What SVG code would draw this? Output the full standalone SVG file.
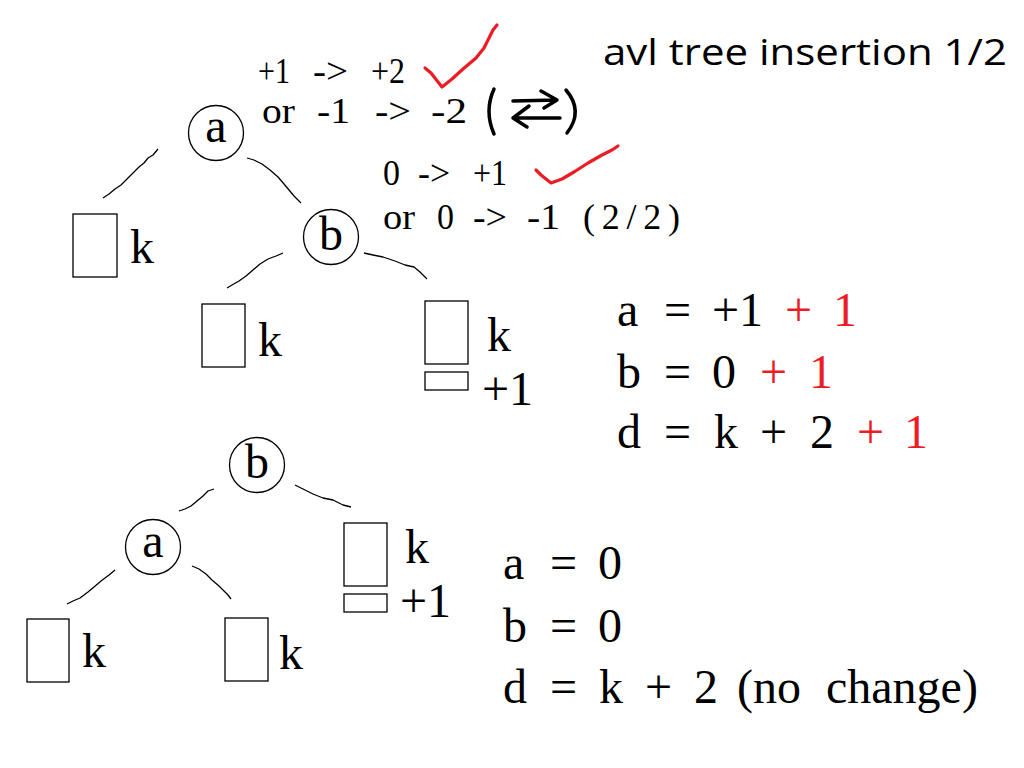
<svg xmlns="http://www.w3.org/2000/svg" width="1024" height="768" viewBox="0 0 1024 768">
<style>
.s{font-family:"Liberation Serif","Times New Roman",serif;fill:#000}
.m{font-size:36px}
.b{font-size:48px}
.r{fill:#ec1c24}
.t{font-family:"Open Sans","Noto Sans",sans-serif;font-size:37px;fill:#000}
.n{fill:#fff;stroke:#000;stroke-width:1.3}
.bx{fill:#fff;stroke:#000;stroke-width:1.3}
.e{fill:none;stroke:#000;stroke-width:1.3;stroke-linejoin:round}
.ck{fill:none;stroke:#ec1c24;stroke-width:3.2;stroke-linecap:round;stroke-linejoin:round}
.sym{fill:none;stroke:#000;stroke-width:3.5;stroke-linecap:round;stroke-linejoin:round}
</style>
<rect width="1024" height="768" fill="#fff"/>

<text class="t" x="603" y="65" textLength="404" lengthAdjust="spacingAndGlyphs">avl tree insertion 1/2</text>

<g id="notes-a">
<text class="s m" x="258" y="83" textLength="32" lengthAdjust="spacingAndGlyphs">+1</text>
<text class="s m" x="313" y="83" textLength="35" lengthAdjust="spacingAndGlyphs">-&gt;</text>
<text class="s m" x="371" y="83" textLength="34" lengthAdjust="spacingAndGlyphs">+2</text>
<text class="s m" x="262" y="123" textLength="33" lengthAdjust="spacingAndGlyphs">or</text>
<text class="s m" x="317" y="123" textLength="33" lengthAdjust="spacingAndGlyphs">-1</text>
<text class="s m" x="375" y="123" textLength="36" lengthAdjust="spacingAndGlyphs">-&gt;</text>
<text class="s m" x="431" y="123" textLength="36" lengthAdjust="spacingAndGlyphs">-2</text>
<path class="ck" d="M425,68 L431,73 L442,87 L452,79 L463,69 L476,58 L484,48 L489,38 L493,30 L497,25"/>
<path class="sym" d="M494,89 Q484,111 494,134"/>
<path class="sym" d="M513,101 L557,100 M541,91 L557,100 L544,108"/>
<path class="sym" d="M560,118 L513,118 M529,106 L513,118 L527,127"/>
<path class="sym" d="M566,90 Q584,111 567,133"/>
</g>

<g id="notes-b">
<text class="s m" x="383" y="185" textLength="17" lengthAdjust="spacingAndGlyphs">0</text>
<text class="s m" x="418" y="185" textLength="32" lengthAdjust="spacingAndGlyphs">-&gt;</text>
<text class="s m" x="473" y="185" textLength="34" lengthAdjust="spacingAndGlyphs">+1</text>
<text class="s m" x="383" y="229" textLength="32" lengthAdjust="spacingAndGlyphs">or</text>
<text class="s m" x="437" y="229" textLength="17" lengthAdjust="spacingAndGlyphs">0</text>
<text class="s m" x="473" y="229" textLength="34" lengthAdjust="spacingAndGlyphs">-&gt;</text>
<text class="s m" x="527" y="229" textLength="33" lengthAdjust="spacingAndGlyphs">-1</text>
<text class="s m" x="583" y="229" textLength="97" lengthAdjust="spacing">(2/2)</text>
<path class="ck" d="M536,170 L541,175 L551,183 L562,179 L574,172 L588,163 L602,155 L612,150 L618,146"/>
</g>

<g id="connectors">
<path class="e" d="M158,149 L153,155 L148,158 L144,163 L139,167 L133,173 L127,179 L121,185 L115,189 L109,194 L103,198"/>
<path class="e" d="M247,158 L254,160 L262,164 L270,170 L278,177 L284,184 L289,190 L294,196 L301,203"/>
<path class="e" d="M283,253 L276,256 L268,259 L260,264 L253,270 L246,276 L239,281 L232,285 L227,288"/>
<path class="e" d="M364,253 L373,255 L383,257 L395,261 L405,265 L414,267 L420,272 L427,279"/>
<path class="e" d="M214,489 L208,491 L203,496 L197,501 L191,506 L185,509 L179,511"/>
<path class="e" d="M295,485 L303,489 L313,494 L323,498 L333,500 L343,505 L351,507"/>
<path class="e" d="M115,570 L109,575 L101,581 L94,587 L88,592 L80,598 L73,601 L67,604"/>
<path class="e" d="M192,566 L199,569 L206,574 L212,580 L219,586 L224,591 L228,595 L231,599"/>
</g>

<g id="node-a-top">
<circle class="n" cx="216" cy="133" r="27.5"/>
<text class="s b" x="216" y="142" text-anchor="middle">a</text>
</g>
<g id="node-b-top">
<circle class="n" cx="331" cy="237" r="27.5"/>
<text class="s b" x="331" y="250" text-anchor="middle">b</text>
</g>
<g id="sub-a-left">
<rect class="bx" x="73" y="214" width="44" height="63"/>
<text class="s b" x="130" y="263">k</text>
</g>
<g id="sub-b-left">
<rect class="bx" x="202" y="304" width="43" height="63"/>
<text class="s b" x="258" y="356">k</text>
</g>
<g id="sub-b-right">
<rect class="bx" x="425" y="301" width="43" height="63"/>
<rect class="bx" x="425" y="372" width="43" height="18"/>
<text class="s b" x="487" y="351">k</text>
<text class="s b" x="482" y="405">+1</text>
</g>

<g id="eq-top">
<text class="s b" y="326"><tspan x="617">a</tspan><tspan x="664">=</tspan><tspan x="712">+1</tspan><tspan class="r" x="785">+</tspan><tspan class="r" x="833">1</tspan></text>
<text class="s b" y="388"><tspan x="617">b</tspan><tspan x="664">=</tspan><tspan x="712">0</tspan><tspan class="r" x="760">+</tspan><tspan class="r" x="809">1</tspan></text>
<text class="s b" y="448"><tspan x="617">d</tspan><tspan x="664">=</tspan><tspan x="714">k</tspan><tspan x="760">+</tspan><tspan x="810">2</tspan><tspan class="r" x="857">+</tspan><tspan class="r" x="904">1</tspan></text>
</g>

<g id="node-b-bottom">
<circle class="n" cx="257" cy="465" r="27.5"/>
<text class="s b" x="257" y="478" text-anchor="middle">b</text>
</g>
<g id="node-a-bottom">
<circle class="n" cx="153" cy="547" r="27.5"/>
<text class="s b" x="153" y="557" text-anchor="middle">a</text>
</g>
<g id="sub-bl">
<rect class="bx" x="27" y="619" width="42" height="63"/>
<text class="s b" x="82" y="667">k</text>
</g>
<g id="sub-bm">
<rect class="bx" x="225" y="618" width="43" height="63"/>
<text class="s b" x="279" y="669">k</text>
</g>
<g id="sub-br">
<rect class="bx" x="344" y="523" width="43" height="63"/>
<rect class="bx" x="344" y="594" width="43" height="18"/>
<text class="s b" x="405" y="563">k</text>
<text class="s b" x="400" y="617">+1</text>
</g>

<g id="eq-bottom">
<text class="s b" y="579"><tspan x="503">a</tspan><tspan x="550">=</tspan><tspan x="598">0</tspan></text>
<text class="s b" y="642"><tspan x="503">b</tspan><tspan x="550">=</tspan><tspan x="598">0</tspan></text>
<text class="s b" y="703"><tspan x="503">d</tspan><tspan x="550">=</tspan><tspan x="599">k</tspan><tspan x="645">+</tspan><tspan x="694">2</tspan><tspan x="737">(no</tspan><tspan x="826">change)</tspan></text>
</g>
</svg>
